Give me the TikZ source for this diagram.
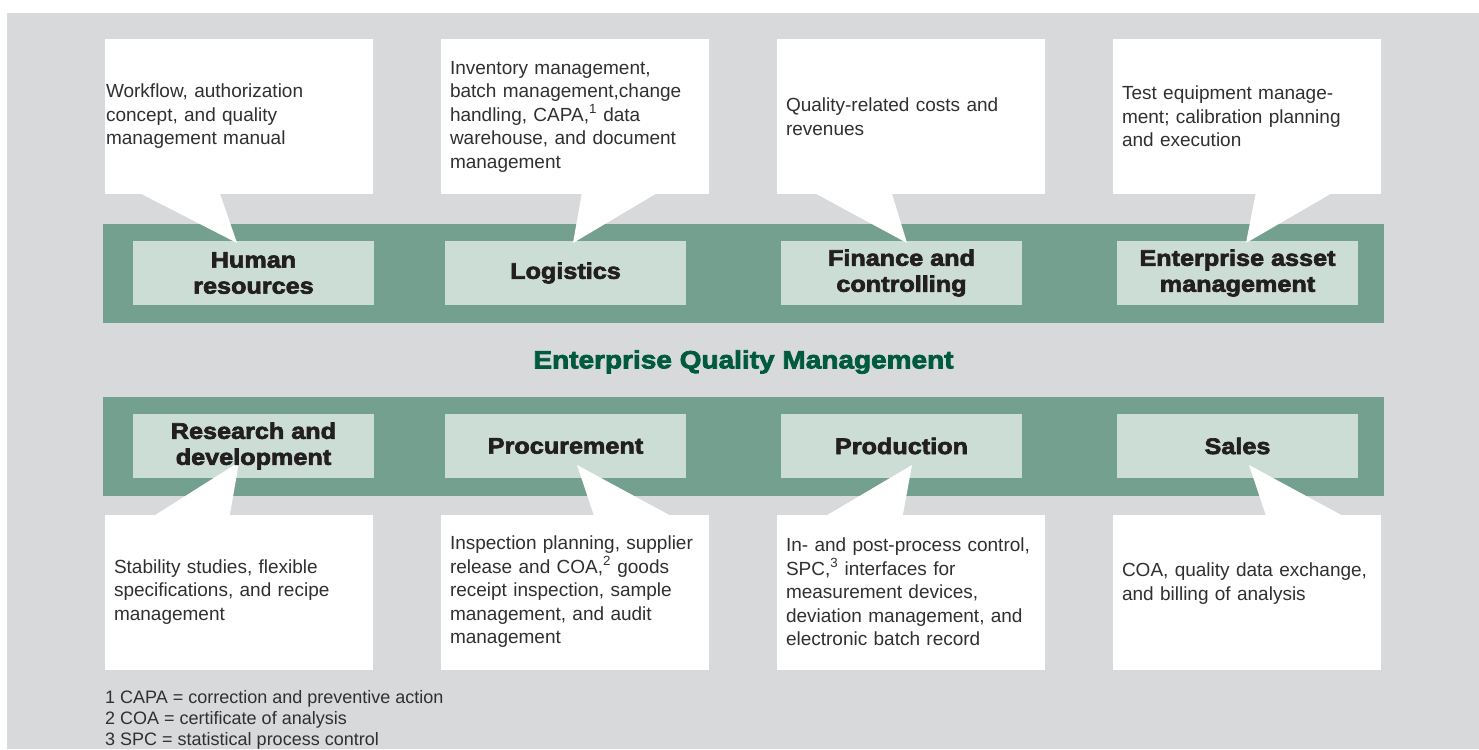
\documentclass[tikz,border=0pt]{standalone}
\usepackage{fontspec}
\setmainfont{Liberation Sans}
\newfontfamily\heavyfont[FakeStretch=1.12,FakeBold=3]{Liberation Sans}
\usetikzlibrary{positioning}

\definecolor{pagegray}{HTML}{D8D9DB}
\definecolor{bandgreen}{HTML}{74A08F}
\definecolor{boxgreen}{HTML}{CCDDD6}
\definecolor{titlegreen}{HTML}{005A3E}
\definecolor{inkgray}{HTML}{303030}
\definecolor{inkblack}{HTML}{231F20}

\begin{document}
\begin{tikzpicture}[
  x=1bp, y=-1bp,
  band/.style={fill=bandgreen, minimum width=1281bp, minimum height=99bp,
               inner sep=0pt},
  unit/.style={fill=boxgreen, minimum width=241bp, minimum height=64bp,
               inner sep=0pt},
  unitlabel/.style={align=center, text=inkblack,
                    font=\heavyfont\bfseries\fontsize{22.5bp}{26bp}\selectfont},
  note/.style={fill=white, minimum width=268bp, minimum height=155bp,
               text width=250bp, inner xsep=9bp, inner ysep=0pt,
               align=left, text=inkgray,
               font=\fontsize{19bp}{23.5bp}\selectfont},
  tail/.style={fill=white},
  heading/.style={text=titlegreen,
                  font=\heavyfont\bfseries\fontsize{25bp}{30bp}\selectfont},
  footnotes/.style={align=left, text=inkgray, inner sep=0pt,
                    font=\fontsize{18bp}{21bp}\selectfont}
]
  % page
  \useasboundingbox (0,0) rectangle (1479,749);
  \fill[white] (0,0) rectangle (1479,749);
  \fill[pagegray] (7,13) rectangle (1479,749);

  % the two green bands
  \node[band] (topband) at (743.5,273.5) {};
  \node[band] (botband) at (743.5,446) {};

  % unit boxes (fills only, labels come last)
  \node[unit] (hrbox)    at (253.5,273)  {};
  \node[unit] (logbox)   at (565.5,273)  {};
  \node[unit] (finbox)   at (901.5,273)  {};
  \node[unit] (eambox)   at (1237.5,273) {};
  \node[unit] (rdbox)    at (253.5,446)  {};
  \node[unit] (procbox)  at (565.5,446)  {};
  \node[unit] (prodbox)  at (901.5,446)  {};
  \node[unit] (salesbox) at (1237.5,446) {};

  % callouts above
  \node[note, text width=266bp, inner xsep=1bp] (hrnote) at (239,116.5)
    {Workflow, authorization\\concept, and quality\\management manual};
  \node[note] (lognote) at (575,116.5)
    {Inventory management,\\batch management,change\\handling, CAPA,\textsuperscript{1} data\\warehouse, and document\\management};
  \node[note] (finnote) at (911,116.5)
    {Quality-related costs and\\revenues};
  \node[note] (eamnote) at (1247,116.5)
    {Test equipment manage-\\ment; calibration planning\\and execution};

  % callouts below
  \node[note] (rdnote) at (239,592)
    {Stability studies, flexible\\specifications, and recipe\\management};
  \node[note] (procnote) at (575,592)
    {Inspection planning, supplier\\release and COA,\textsuperscript{2} goods\\receipt inspection, sample\\management, and audit\\management};
  \node[note] (prodnote) at (911,592)
    {In- and post-process control,\\SPC,\textsuperscript{3} interfaces for\\measurement devices,\\deviation management, and\\electronic batch record};
  \node[note] (salesnote) at (1247,592)
    {COA, quality data exchange,\\and billing of analysis\\[-3bp]\mbox{}};

  % tips of the callout tails
  \coordinate (hrtip)    at (237,243);
  \coordinate (logtip)   at (573,243);
  \coordinate (fintip)   at (907,243);
  \coordinate (eamtip)   at (1246,243);
  \coordinate (rdtip)    at (239,462);
  \coordinate (proctip)  at (577,465);
  \coordinate (prodtip)  at (912,465);
  \coordinate (salestip) at (1249,465);

  \fill[tail] ([xshift=35bp,yshift=1bp]hrnote.south west) -- (hrtip)
    -- ([xshift=115bp,yshift=1bp]hrnote.south west) -- cycle;
  \fill[tail] ([xshift=141bp,yshift=1bp]lognote.south west) -- (logtip)
    -- ([xshift=216bp,yshift=1bp]lognote.south west) -- cycle;
  \fill[tail] ([xshift=38bp,yshift=1bp]finnote.south west) -- (fintip)
    -- ([xshift=115bp,yshift=1bp]finnote.south west) -- cycle;
  \fill[tail] ([xshift=143bp,yshift=1bp]eamnote.south west) -- (eamtip)
    -- ([xshift=219bp,yshift=1bp]eamnote.south west) -- cycle;
  \fill[tail] ([xshift=50bp,yshift=-1bp]rdnote.north west) -- (rdtip)
    -- ([xshift=125bp,yshift=-1bp]rdnote.north west) -- cycle;
  \fill[tail] ([xshift=153bp,yshift=-1bp]procnote.north west) -- (proctip)
    -- ([xshift=229bp,yshift=-1bp]procnote.north west) -- cycle;
  \fill[tail] ([xshift=50bp,yshift=-1bp]prodnote.north west) -- (prodtip)
    -- ([xshift=126bp,yshift=-1bp]prodnote.north west) -- cycle;
  \fill[tail] ([xshift=153bp,yshift=-1bp]salesnote.north west) -- (salestip)
    -- ([xshift=229bp,yshift=-1bp]salesnote.north west) -- cycle;

  % unit labels on top of the tails
  \node[unitlabel] (hr)    at (hrbox)    {Human\\resources};
  \node[unitlabel] (log)   at (logbox)   {Logistics};
  \node[unitlabel] (fin)   at (finbox)   {Finance and\\controlling};
  \node[unitlabel] (eam)   at (eambox)   {Enterprise asset\\management};
  \node[unitlabel] (rd)    at (rdbox)    {Research and\\development};
  \node[unitlabel] (proc)  at (procbox)  {Procurement};
  \node[unitlabel] (prod)  at (prodbox)  {Production};
  \node[unitlabel] (sales) at (salesbox) {Sales};

  \node[heading] (eqm) at (743.5,362) {Enterprise Quality Management};

  \node[footnotes, anchor=west] (notes) at (105,719.5)
    {1 CAPA = correction and preventive action\\
     2 COA = certificate of analysis\\
     3 SPC = statistical process control};
\end{tikzpicture}
\end{document}
